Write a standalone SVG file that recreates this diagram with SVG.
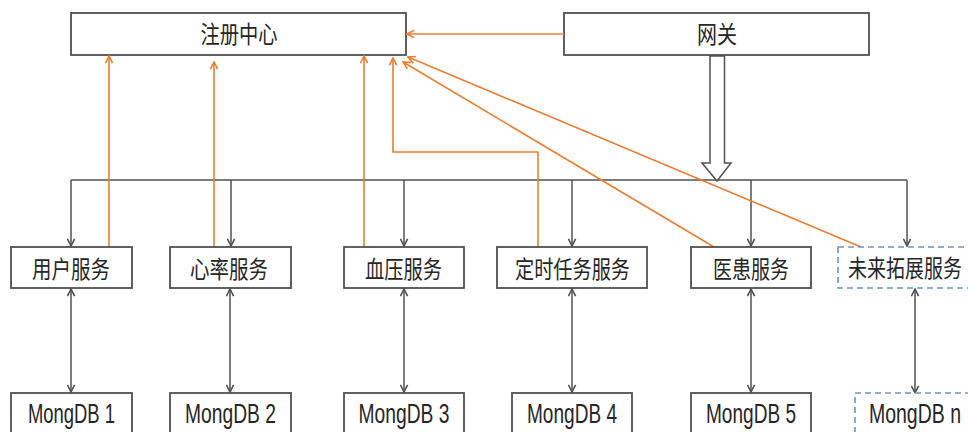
<svg xmlns="http://www.w3.org/2000/svg" width="968" height="432" viewBox="0 0 968 432">
<defs>
<style>
.box{fill:#fff;stroke:#505050;stroke-width:1.8}
.dash{fill:#fff;stroke:#7393B8;stroke-width:1.6;stroke-dasharray:6 4}
.cn{font-family:"Liberation Sans","Noto Sans CJK SC",sans-serif;font-size:24px;fill:#262626;text-anchor:middle;dominant-baseline:central}
.en{font-family:"Liberation Sans","Noto Sans CJK SC",sans-serif;font-size:27px;fill:#262626;text-anchor:middle;dominant-baseline:central}
.blk{fill:none;stroke:#505050;stroke-width:1.5}
.org{fill:none;stroke:#ED7D31;stroke-width:1.6}
</style>
<marker id="ab" viewBox="0 0 10 10" refX="9" refY="5" markerWidth="9" markerHeight="9" markerUnits="userSpaceOnUse" orient="auto-start-reverse">
<path d="M1,1 L9,5 L1,9" fill="none" stroke="#505050" stroke-width="1.8"/>
</marker>
<marker id="ao" viewBox="0 0 10 10" refX="9" refY="5" markerWidth="9" markerHeight="9" markerUnits="userSpaceOnUse" orient="auto-start-reverse">
<path d="M1,1 L9,5 L1,9" fill="none" stroke="#ED7D31" stroke-width="1.8"/>
</marker>
</defs>
<rect width="968" height="432" fill="#fff"/>

<g id="registry"><rect class="box" x="71" y="13" width="335" height="42"/><text class="cn" x="239" y="34" textLength="77" lengthAdjust="spacingAndGlyphs">注册中心</text></g>
<g id="gateway"><rect class="box" x="564" y="13" width="305" height="42"/><text class="cn" x="717" y="34" textLength="40" lengthAdjust="spacingAndGlyphs">网关</text></g>

<g id="connectors">
<path class="blk" d="M71,180 H907"/>
<path class="blk" marker-end="url(#ab)" d="M71,180 V246"/>
<path class="blk" marker-end="url(#ab)" d="M231,180 V246"/>
<path class="blk" marker-end="url(#ab)" d="M404,180 V246"/>
<path class="blk" marker-end="url(#ab)" d="M572,180 V246"/>
<path class="blk" marker-end="url(#ab)" d="M751,180 V246"/>
<path class="blk" marker-end="url(#ab)" d="M907,180 V246"/>
<path class="blk" marker-start="url(#ab)" marker-end="url(#ab)" d="M71,289 V392"/>
<path class="blk" marker-start="url(#ab)" marker-end="url(#ab)" d="M230,289 V392"/>
<path class="blk" marker-start="url(#ab)" marker-end="url(#ab)" d="M404,289 V392"/>
<path class="blk" marker-start="url(#ab)" marker-end="url(#ab)" d="M572,289 V392"/>
<path class="blk" marker-start="url(#ab)" marker-end="url(#ab)" d="M751,289 V392"/>
<path class="blk" marker-start="url(#ab)" marker-end="url(#ab)" d="M915,289 V393"/>
<path fill="#fff" stroke="#505050" stroke-width="1.5" d="M710,56 H724.5 V163 H731 L717,181 L702,163 H710 Z"/>
<path class="org" marker-end="url(#ao)" d="M564,34 H407"/>
<path class="org" marker-end="url(#ao)" d="M109,247 V56"/>
<path class="org" marker-end="url(#ao)" d="M214,247 V62"/>
<path class="org" marker-end="url(#ao)" d="M364,247 V56"/>
<path class="org" marker-end="url(#ao)" d="M538,247 V152 H393 V58"/>
<path class="org" marker-end="url(#ao)" d="M714,247 L403,62"/>
<path class="org" marker-end="url(#ao)" d="M861,247 L408,57"/>
</g>

<g id="svc-user"><rect class="box" x="11" y="247" width="121" height="41"/><text class="cn" x="71" y="269" textLength="78" lengthAdjust="spacingAndGlyphs">用户服务</text></g>
<g id="svc-heart"><rect class="box" x="170" y="247" width="121" height="41"/><text class="cn" x="229" y="269" textLength="78" lengthAdjust="spacingAndGlyphs">心率服务</text></g>
<g id="svc-bp"><rect class="box" x="344" y="247" width="120" height="41"/><text class="cn" x="403.5" y="269" textLength="77" lengthAdjust="spacingAndGlyphs">血压服务</text></g>
<g id="svc-timer"><rect class="box" x="497" y="247" width="150" height="41"/><text class="cn" x="572.5" y="269" textLength="115" lengthAdjust="spacingAndGlyphs">定时任务服务</text></g>
<g id="svc-doctor"><rect class="box" x="691" y="247" width="120" height="41"/><text class="cn" x="751" y="269" textLength="76" lengthAdjust="spacingAndGlyphs">医患服务</text></g>
<g id="svc-future"><rect class="dash" x="838" y="247" width="132" height="41"/><text class="cn" style="font-size:19px" x="0" y="0" transform="translate(905,269) scale(1,1.26)">未来拓展服务</text></g>

<g id="db1"><rect class="box" x="11" y="393" width="121" height="60"/><text class="en" x="71.5" y="414" textLength="87" lengthAdjust="spacingAndGlyphs">MongDB 1</text></g>
<g id="db2"><rect class="box" x="170" y="393" width="121" height="60"/><text class="en" x="230.5" y="414" textLength="91" lengthAdjust="spacingAndGlyphs">MongDB 2</text></g>
<g id="db3"><rect class="box" x="344" y="393" width="120" height="60"/><text class="en" x="404" y="414" textLength="91" lengthAdjust="spacingAndGlyphs">MongDB 3</text></g>
<g id="db4"><rect class="box" x="512" y="393" width="120" height="60"/><text class="en" x="572" y="414" textLength="90" lengthAdjust="spacingAndGlyphs">MongDB 4</text></g>
<g id="db5"><rect class="box" x="691" y="393" width="120" height="60"/><text class="en" x="751" y="414" textLength="90" lengthAdjust="spacingAndGlyphs">MongDB 5</text></g>
<g id="dbn"><rect class="dash" x="855" y="393" width="115" height="60"/><text class="en" style="font-size:19.5px" x="0" y="0" transform="translate(915,414) scale(1,1.38)">MongDB n</text></g>
</svg>
